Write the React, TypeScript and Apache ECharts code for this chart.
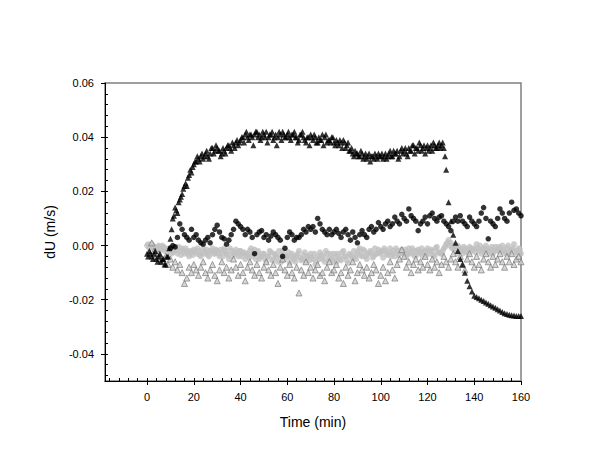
import React, { useEffect, useRef } from "react";
import * as echarts from "echarts";

// Values in units of 0.001 m/s, one point per minute (whole minutes)
const blackTriStart = 0;
const blackTriangles = [
  -3, -2, -4, -3, -5, -4, -6, -5, -7, -4,
  2.5, 10, 14, 12, 17, 19, 22, 22, 26, 27,
  30, 31, 32, 33, 32, 34, 33, 34, 36, 35,
  36, 35, 34, 35, 36, 37, 35, 37, 38, 37,
  39, 40, 41, 40, 41, 40, 41, 42, 41, 40,
  41, 42, 40, 41, 39, 41, 40, 41, 42, 40,
  41, 40, 41, 42, 40, 39, 41, 40, 38, 40,
  41, 39, 40, 38, 39, 41, 40, 38, 39, 40,
  38, 39, 37, 38, 39, 36, 38, 35, 34, 35,
  34, 33, 34, 33, 32, 34, 33, 32, 33, 34,
  33, 32, 34, 33, 35, 33, 34, 35, 33, 36,
  35, 34, 36, 35, 37, 36, 35, 37, 36, 34,
  37, 36, 35, 37, 36, 38, 37, 36, 28, 16,
  9, 4, 1, -2, -5, -7, -10, -13, -15, -17,
  -18.5, -19, -19.5, -20, -20.5, -21, -21.5, -22, -22.5, -23,
  -23.5, -24, -24.5, -25, -25.3, -25.5, -25.7, -25.8, -26, -26,
  -26,
];
// half-minute samples (t = 0.5, 1.5, ...)
const blackTriHalfStart = 0.5;
const blackTrianglesHalf = [
  -4, -3, -5, -2, -6, -3, -5, -7, -4, -1,
  6, 11, 13, 16, 18, 21, 23, 25, 28, 29,
  31, 33, 31, 34, 33, 35, 32, 36, 34, 37,
  35, 33, 36, 34, 37, 36, 38, 36, 39, 38,
  40, 38, 42, 39, 41, 37, 42, 40, 39, 42,
  40, 38, 41, 42, 40, 37, 42, 39, 41, 40,
  42, 39, 41, 40, 38, 41, 42, 39, 40, 37,
  40, 41, 38, 40, 39, 37, 41, 39, 38, 40,
  37, 38, 39, 36, 38, 37, 35, 36, 33, 34,
  33, 35, 32, 34, 33, 31, 33, 34, 32, 33,
  34, 33, 32, 34, 33, 35, 34, 32, 35, 34,
  36, 33, 35, 37, 34, 36, 38, 35, 37, 36,
  35, 37, 38, 36, 37, 36, 38, 33,
];

const blackCircStart = 10;
const blackCircles = [
  -1, 0, -0.5, 3, 8, 6, 4, 3, 2, 6,
  3, 4, 2, 1, 0.5, 2, 3, 1, 4, 6,
  7.5, 5, 3, 2.5, 0.5, 2, 4, 6, 9, 8,
  7, 6, 4, 6, 5, 3, -3, 4, 5, 5.5,
  3, 4, 2, 3.5, 5, 4, 3, 2, -4, -1,
  3, 5, 4, 2, 3, 3, 4, 6, 5, 7,
  6, 7, 5, 10, 8, 6, 5, 4, 6, 4,
  5, 6, 4.5, 3, 5, 6, 4, 2, 5, 3,
  1, 4, 5.5, 4, 3, 6, 7, 5, 6, 8.5,
  7, 6, 8, 9, 7, 8, 10.5, 9, 8, 11.5,
  10, 9, 13.5, 11, 10, 9, 5.5, 8, 9, 10.5,
  8, 11, 12, 10, 9, 10.5, 11, 9, 8, 7,
  5.5, 9, 10.5, 9, 11, 9, 8, 7, 10.5, 9,
  8, 7, 9, 12, 14, 10, 2.5, 9, 8, 7,
  10, 13.5, 12, 10, 9, 12, 16, 13, 13.5, 12,
  11,
];

const grayCircStart = 0;
const grayCircles = [
  0, -1, 0.5, -0.5, -1, 0, -1.5, -0.5, -1, -2,
  -1, -2.5, -1, -3, -2, -1, -3, -2, -4, -2.5,
  -1.5, -3, -2, -4, -1, -2.5, -3.5, -2, -1, -3,
  -2, -4, -2.5, -1, -3, -5, -2, -3, -1.5, -4,
  -2, -3, -5, -3.5, -2, -4, -1.5, -3, -5, -4,
  -3, -6, -4, -2.5, -5, -3.5, -6, -4, -2, -5,
  -4, -6.5, -3, -5, -4, -2, -5.5, -3.5, -6, -4,
  -3, -5, -7, -4, -2.5, -5, -6, -3, -4.5, -5,
  -3, -6, -4, -5.5, -2, -4, -6.5, -3.5, -5, -4,
  -3, -1, -4, -2, -5, -3, -2.5, -4, -3, -1.5,
  -3, -4.5, -2, -3.5, -1, -3, -4, -2, -3, -1.5,
  -2.5, -4, -1, -3, -2, -3.5, -1.5, -2.5, -4, -2,
  -1, -3, -2, -4, -0.5, -2.5, -3, -1, 0.5, 2,
  1, -1, -2, 0, -1.5, -3, -1, -2.5, -0.5, -2,
  -1, 0.5, -2, -3, -1, 0, -2, -1.5, -3, -0.5,
  -2, -1, 0, -2.5, -1, -3, -1.5, 0.5, -2, -1,
  -3,
];
const grayCircHalfStart = 0.5;
const grayCirclesHalf = [
  0.5, -1, 0, -2, -0.5, -1, 0, -2, -1.5, -1,
  -3, -1.5, -2, -0.5, -3.5, -2, -1, -3, -2, -3.5,
  -2, -1, -3.5, -2.5, -3, -1.5, -4, -2, -3, -1.5,
  -3, -1.5, -4, -2, -3.5, -1, -4, -2.5, -3, -2,
  -4, -2.5, -3, -4.5, -1, -3, -5, -2, -4, -3,
  -5, -4, -2, -5.5, -3, -4.5, -2, -6, -3.5, -4,
  -2.5, -5, -4, -6, -3, -4.5, -5, -2.5, -4, -5.5,
  -4.5, -3, -6, -5, -3.5, -4, -2, -5.5, -3, -6,
  -4.5, -3, -5, -2.5, -4, -5.5, -3, -4, -2, -5,
  -2, -3.5, -1.5, -4, -3, -2, -4.5, -1, -3, -2.5,
  -2, -1, -3, -2.5, -4, -2, -1, -3.5, -2, -3,
  -1.5, -3, -2.5, -1, -4, -2, -3, -1, -2.5, -3.5,
  -2, -1.5, -3.5, -1, -2.5, -3, -2, -0.5, 1, 0,
  -1, 0, -3, -1, -2, -0.5, -2, -3, -1, -1.5,
  -2.5, -1, 0, -1.5, -2.5, -1, -3, -0.5, -2, -1.5,
  -0.5, -2, -1.5, -3, 0, -2, -1, -2.5, -3, -1.5,
];

const grayTriStart = 2;
const grayTriangles = [
  1, -2, -4, -3, -5, -6, -4, -7,
  -5, -8, -6, -9, -7, -10, -14, -12, -8, -10,
  -7, -9, -11, -8, -6, -10, -12, -9, -7, -11,
  -13, -9, -6, -10, -8, -12, -9, -5, -8, -11,
  -7, -10, -13, -8, -6, -9, -11, -7, -10, -12,
  -8, -6, -9, -11, -7, -10, -14, -8, -5, -9,
  -11, -7, -10, -12, -8, -17.5, -9, -11, -6, -10,
  -8, -12, -9, -7, -11, -10, -13, -8, -6, -10,
  -9, -7, -12, -10, -14, -8, -11, -9, -6, -13,
  -10, -7, -9, -11, -8, -12, -10, -7, -9, -14,
  -11, -8, -13, -10, -6, -9, -12, -7, -5, -1.5,
  -4, -8, -6, -10, -7, -5, -9, -6, -8, -4,
  -7, -9, -5, -8, -6, -10, -7, -4, -6, -8,
  -5, -3, -6, -8, -4, -7, -9, -5, -3, -6,
  -8, -4, -7, -9, -5, -3, -6, -8, -4, -7,
  -5, -3, -6, -8, -4, -6, -3, -7, -5, -4, -6,
];

const xMajorTicks = [0, 20, 40, 60, 80, 100, 120, 140, 160];
const xMinorTicks = [
  -16, -12, -8, -4, 0, 4, 8, 12, 16, 20, 24, 28, 32, 36, 40, 44, 48, 52, 56,
  60, 64, 68, 72, 76, 80, 84, 88, 92, 96, 100, 104, 108, 112, 116, 120, 124,
  128, 132, 136, 140, 144, 148, 152, 156,
];
const yMajorTicks = [-0.04, -0.02, 0, 0.02, 0.04, 0.06];
const yMinorTicks = [
  -0.048, -0.044, -0.04, -0.036, -0.032, -0.028, -0.024, -0.02, -0.016,
  -0.012, -0.008, -0.004, 0, 0.004, 0.008, 0.012, 0.016, 0.02, 0.024, 0.028,
  0.032, 0.036, 0.04, 0.044, 0.048, 0.052, 0.056,
];

const toPoints = (start: number, vals: number[]) =>
  vals.map((v, i) => [start + i, v / 1000]);

const FONT = "Liberation Sans, Arial, Helvetica, sans-serif";

export default function App() {
  const ref = useRef<HTMLDivElement>(null);
  useEffect(() => {
    document.body.style.margin = "0";
    if (!ref.current) return;
    const chart = echarts.init(ref.current, undefined, { renderer: "svg" });
    const xBase = {
      type: "value" as const,
      min: -18,
      max: 160,
      position: "bottom" as const,
      splitLine: { show: false },
    };
    const yBase = {
      type: "value" as const,
      min: -0.05,
      max: 0.06,
      position: "left" as const,
      splitLine: { show: false },
    };
    chart.setOption({
      animation: false,
      backgroundColor: "#ffffff",
      grid: {
        left: 105,
        right: 79,
        top: 83,
        bottom: 92,
        show: true,
        borderColor: "#808080",
        borderWidth: 1.5,
        containLabel: false,
      },
      xAxis: [
        {
          ...xBase,
          name: "Time (min)",
          nameLocation: "middle",
          nameGap: 34,
          nameTextStyle: { fontFamily: FONT, fontSize: 14, color: "#000" },
          axisLine: { show: true, onZero: false, lineStyle: { color: "#000", width: 1 } },
          axisTick: {
            show: true,
            inside: false,
            length: 4,
            customValues: xMajorTicks,
            lineStyle: { color: "#000" },
          },
          axisLabel: {
            show: true,
            margin: 10,
            customValues: xMajorTicks,
            fontFamily: FONT,
            fontSize: 11,
            color: "#000",
          },
        },
        {
          ...xBase,
          axisLine: { show: false, onZero: false },
          axisLabel: { show: false },
          axisTick: {
            show: true,
            inside: true,
            length: 3,
            customValues: xMinorTicks,
            lineStyle: { color: "#000" },
          },
        },
      ],
      yAxis: [
        {
          ...yBase,
          name: "dU (m/s)",
          nameLocation: "middle",
          nameGap: 48,
          nameTextStyle: { fontFamily: FONT, fontSize: 14, color: "#000" },
          axisLine: { show: true, onZero: false, lineStyle: { color: "#000", width: 1 } },
          axisTick: {
            show: true,
            inside: false,
            length: 4,
            customValues: yMajorTicks,
            lineStyle: { color: "#000" },
          },
          axisLabel: {
            show: true,
            margin: 11,
            customValues: yMajorTicks,
            fontFamily: FONT,
            fontSize: 11,
            color: "#000",
            formatter: (v: number) => v.toFixed(2).replace("-0.00", "0.00"),
          },
        },
        {
          ...yBase,
          axisLine: { show: false, onZero: false },
          axisLabel: { show: false },
          axisTick: {
            show: true,
            inside: true,
            length: 3,
            customValues: yMinorTicks,
            lineStyle: { color: "#000" },
          },
        },
      ],
      series: [
        {
          name: "gray circles",
          type: "scatter",
          xAxisIndex: 0,
          yAxisIndex: 0,
          symbol: "circle",
          symbolSize: 6,
          itemStyle: { color: "#c0c0c0" },
          data: toPoints(grayCircStart, grayCircles).concat(
            toPoints(grayCircHalfStart, grayCirclesHalf)
          ),
        },
        {
          name: "gray triangles",
          type: "scatter",
          xAxisIndex: 0,
          yAxisIndex: 0,
          symbol: "triangle",
          symbolSize: 6,
          itemStyle: { color: "#cccccc", borderColor: "#707070", borderWidth: 0.8 },
          data: toPoints(grayTriStart, grayTriangles),
        },
        {
          name: "black circles",
          type: "scatter",
          xAxisIndex: 0,
          yAxisIndex: 0,
          symbol: "circle",
          symbolSize: 5.5,
          itemStyle: { color: "#000000" },
          data: toPoints(blackCircStart, blackCircles),
        },
        {
          name: "black triangles",
          type: "scatter",
          xAxisIndex: 0,
          yAxisIndex: 0,
          symbol: "triangle",
          symbolSize: 6,
          itemStyle: { color: "#000000" },
          data: toPoints(blackTriStart, blackTriangles).concat(
            toPoints(blackTriHalfStart, blackTrianglesHalf)
          ),
        },
      ],
    });
    return () => chart.dispose();
  }, []);
  return <div ref={ref} style={{ width: 600, height: 473 }} />;
}
